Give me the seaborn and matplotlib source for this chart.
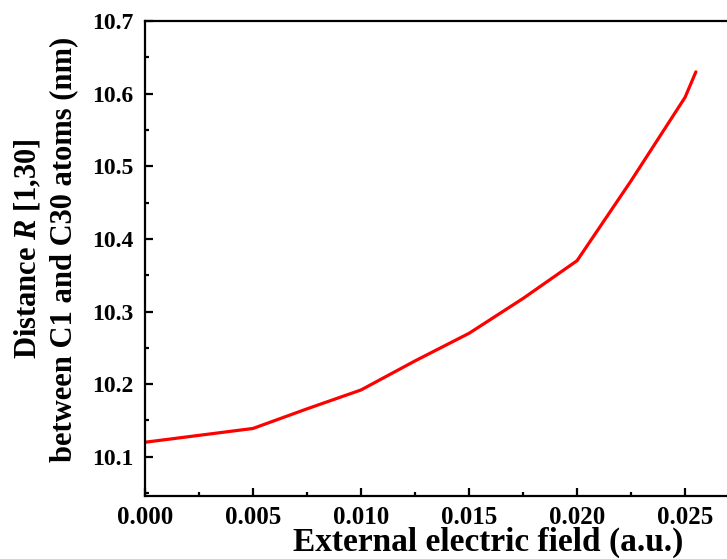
import matplotlib
matplotlib.use("Agg")
import matplotlib.pyplot as plt
import seaborn as sns
import pandas as pd
from matplotlib.ticker import MultipleLocator

# values
field = [0.0, 0.005, 0.0075, 0.010, 0.0125, 0.015, 0.0175, 0.020, 0.0225, 0.025, 0.0255]
distance = [10.12, 10.139, 10.166, 10.192, 10.232, 10.270, 10.318, 10.370, 10.480, 10.595, 10.630]

x_ticks = [0.0, 0.005, 0.010, 0.015, 0.020, 0.025]
x_tick_labels = ["0.000", "0.005", "0.010", "0.015", "0.020", "0.025"]
y_ticks = [10.1, 10.2, 10.3, 10.4, 10.5, 10.6, 10.7]
y_tick_labels = ["10.1", "10.2", "10.3", "10.4", "10.5", "10.6", "10.7"]

df = pd.DataFrame({"field": field, "distance": distance})

sns.set_style("ticks")
plt.rcParams['font.family'] = ['Liberation Serif', 'DejaVu Serif']
plt.rcParams['font.weight'] = 'bold'
plt.rcParams['mathtext.fontset'] = 'custom'
plt.rcParams['mathtext.it'] = 'Liberation Serif:italic:bold'
plt.rcParams['mathtext.rm'] = 'Liberation Serif:bold'
# black text and ticks like the original
for key in ['text.color', 'axes.labelcolor', 'xtick.color', 'ytick.color', 'axes.edgecolor']:
    plt.rcParams[key] = 'black'

fig = plt.figure(figsize=(7.27, 5.59), dpi=100)
ax = fig.add_axes([0.1994, 0.1127, 0.8006, 0.8497])

sns.lineplot(data=df, x="field", y="distance", color="#ff0000", linewidth=2.3, ax=ax)

ax.set_xlim(0.0, 0.02694)
ax.set_ylim(10.046, 10.7)
ax.xaxis.set_minor_locator(MultipleLocator(0.0025))
ax.yaxis.set_minor_locator(MultipleLocator(0.05))
ax.set_xticks(x_ticks)
ax.set_xticklabels(x_tick_labels)
ax.set_yticks(y_ticks)
ax.set_yticklabels(y_tick_labels)

ax.tick_params(which="major", direction="in", length=6, width=1.6, labelsize=17)
ax.tick_params(axis="x", which="major", pad=7, labelsize=18)
ax.tick_params(axis="y", which="major", pad=8)
ax.tick_params(which="minor", direction="in", length=3, width=1.6)
for lab in ax.get_xticklabels() + ax.get_yticklabels():
    lab.set_fontweight("bold")

for side in ["left", "bottom", "top"]:
    ax.spines[side].set_linewidth(1.6)
ax.spines["right"].set_visible(False)

ax.set_xlabel("External electric field (a.u.)", fontsize=24, fontweight="bold")
ax.xaxis.set_label_coords(0.59, -0.131)
ax.xaxis.label.set_va("bottom")
ax.set_ylabel("Distance $R$ [1,30]\nbetween C1 and C30 atoms (nm)", fontsize=22,
              fontweight="bold", linespacing=1.25)
ax.yaxis.set_label_coords(-0.115, 0.52)

fig.savefig("out.png", dpi=100)
